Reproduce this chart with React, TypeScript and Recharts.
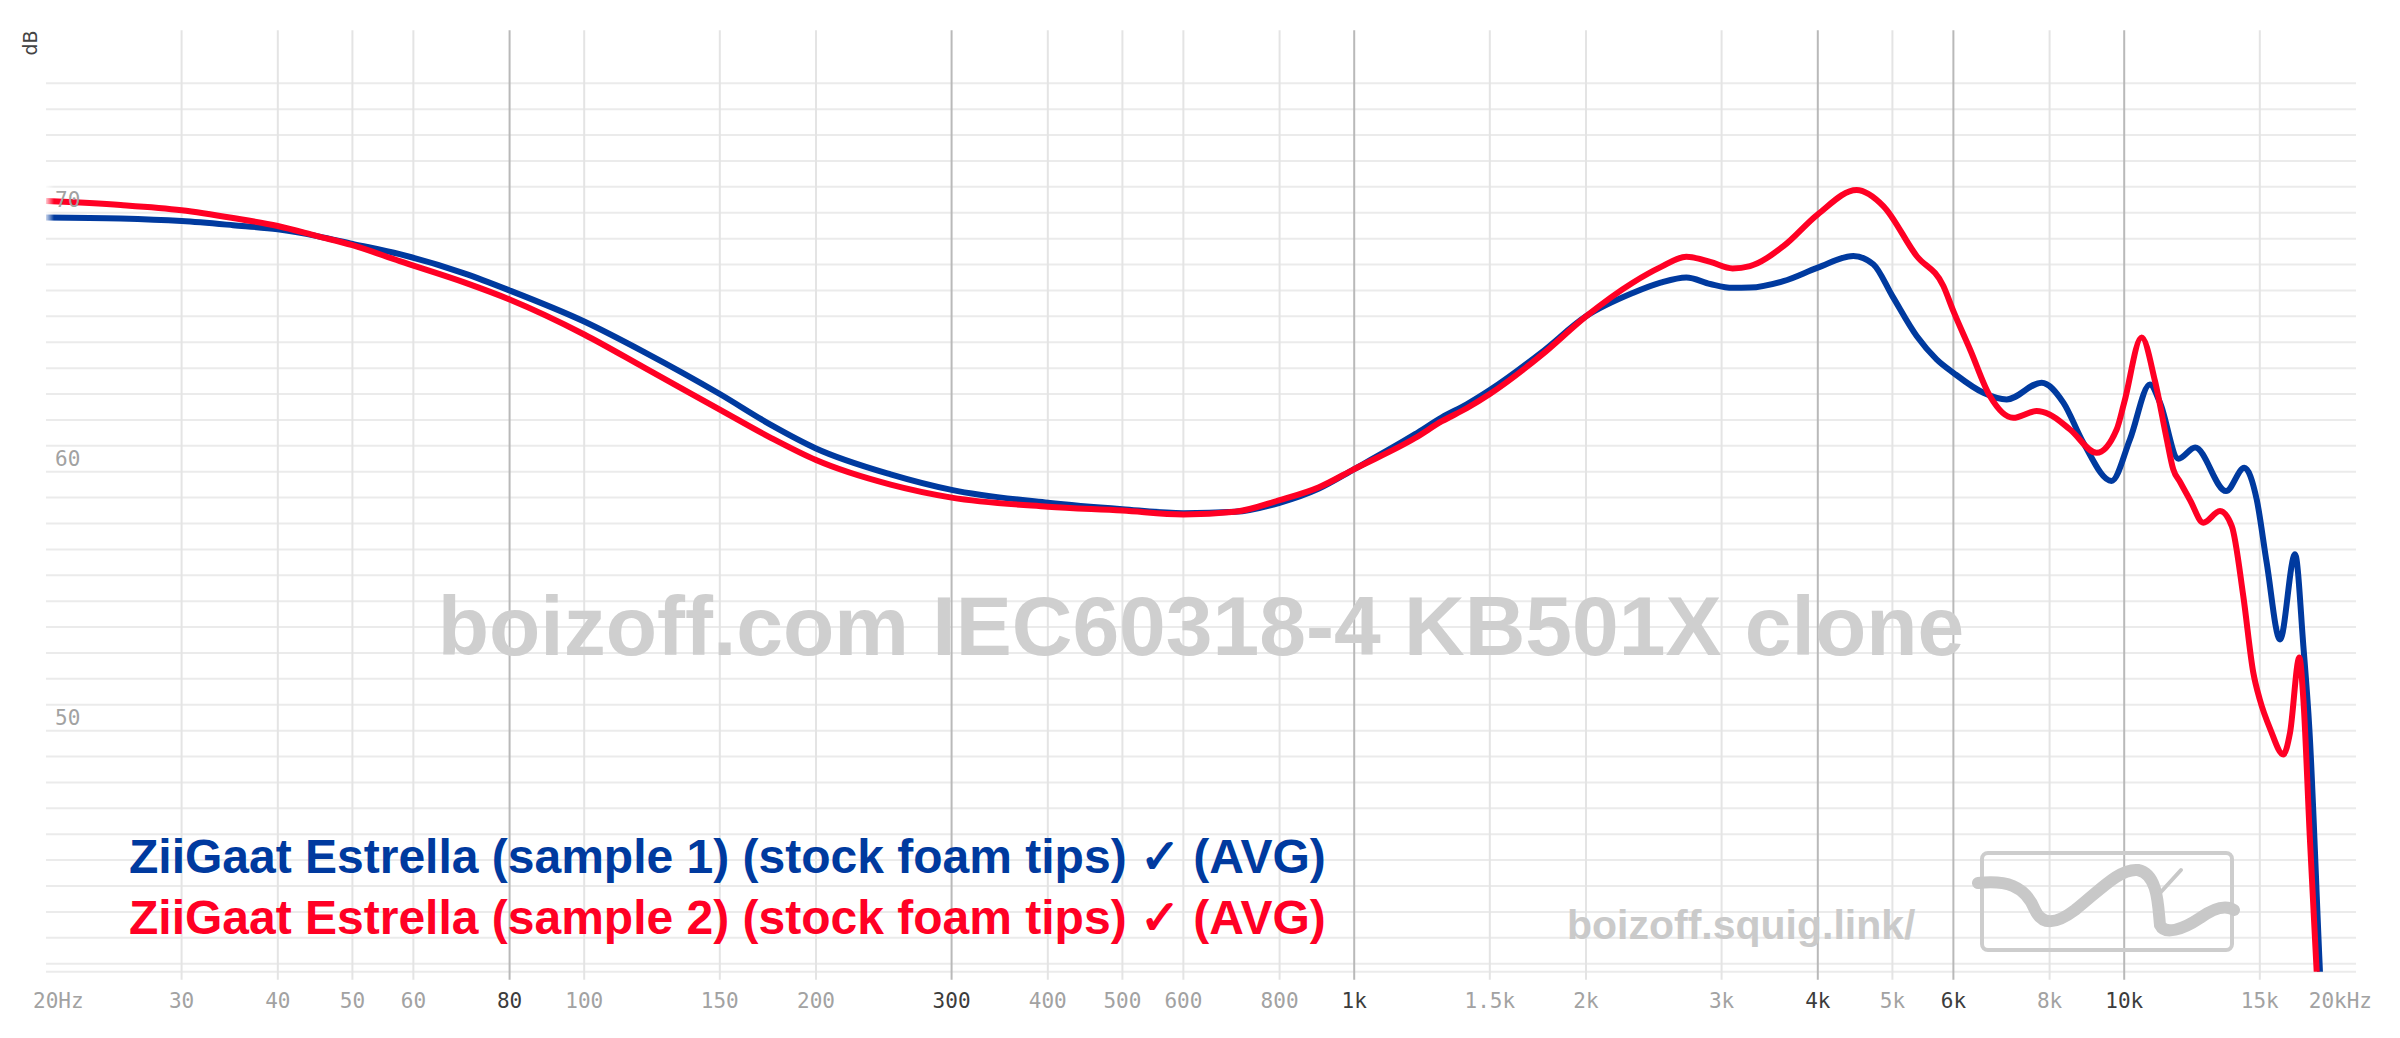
import React from "react";
import { LineChart, Line, XAxis, YAxis, CartesianGrid, ReferenceLine } from "recharts";

// ---------- data ----------
const blueFreq = [20, 25, 30, 35, 40, 45, 50, 57.6, 70, 80, 100, 120, 150, 175, 200, 250, 300, 400, 500, 600, 700, 800, 900, 1000, 1200, 1300, 1400, 1500, 1750, 2000, 2300, 2500, 2700, 2900, 3100, 3266, 3609, 4000, 4448, 4722, 5000, 5376, 5706, 6000, 6563, 7037, 7812, 8336, 8850, 9627, 10174, 10800, 11128, 11760, 12363, 13561, 14322, 14861, 15313, 15935, 16667, 17088, 17398, 17962, 18200];
const blueDb = [69.82, 69.78, 69.68, 69.52, 69.36, 69.1, 68.8, 68.4, 67.65, 67.0, 65.8, 64.6, 63.0, 61.8, 60.9, 59.9, 59.3, 58.8, 58.55, 58.4, 58.45, 58.8, 59.35, 60.1, 61.45, 62.1, 62.6, 63.15, 64.6, 66.0, 66.9, 67.3, 67.5, 67.25, 67.1, 67.11, 67.36, 67.88, 68.33, 68.01, 66.78, 65.24, 64.34, 63.82, 63.05, 62.79, 63.44, 62.67, 61.12, 59.64, 61.25, 63.37, 62.67, 60.5, 60.93, 59.25, 60.15, 58.93, 56.48, 53.52, 56.81, 53.26, 50.05, 40.6, 37];

const redFreq = [20, 25, 30, 35, 40, 45, 50, 57.6, 70, 80, 100, 120, 150, 175, 200, 250, 300, 400, 500, 600, 700, 800, 900, 1000, 1200, 1300, 1400, 1500, 1750, 2000, 2300, 2500, 2700, 2900, 3100, 3266, 3609, 4000, 4493, 4866, 5376, 5823, 6000, 6307, 6692, 7176, 7696, 8000, 8505, 9210, 9777, 10000, 10535, 10964, 11357, 11580, 11819, 12179, 12668, 13317, 13794, 14278, 14711, 15000, 15480, 16093, 16419, 16883, 17088, 17419, 17788, 18000];
const redDb = [70.45, 70.3, 70.1, 69.8, 69.49, 69.1, 68.75, 68.13, 67.3, 66.65, 65.3, 64.0, 62.4, 61.3, 60.45, 59.5, 59.0, 58.65, 58.5, 58.35, 58.45, 58.9, 59.4, 60.1, 61.3, 61.95, 62.45, 63.0, 64.5, 66.0, 67.3, 67.9, 68.3, 68.1, 67.85, 67.94, 68.71, 69.94, 70.88, 70.26, 68.33, 67.17, 66.2, 64.72, 62.92, 62.08, 62.34, 62.21, 61.63, 60.73, 61.63, 62.67, 65.18, 63.5, 61.25, 60.09, 59.6, 58.9, 58.03, 58.48, 57.9, 55.19, 52.24, 51.2, 50.05, 49.08, 49.92, 52.82, 51.2, 45.9, 40.6, 38];

const xTicks = [20, 30, 40, 50, 60, 80, 100, 150, 200, 300, 400, 500, 600, 800, 1000, 1500, 2000, 3000, 4000, 5000, 6000, 8000, 10000, 15000, 20000];
const xTickLabels = ["20Hz", "30", "40", "50", "60", "80", "100", "150", "200", "300", "400", "500", "600", "800", "1k", "1.5k", "2k", "3k", "4k", "5k", "6k", "8k", "10k", "15k", "20kHz"];
const xMajor = [80, 300, 1000, 4000, 6000, 10000];
const xGridFreqs = [30, 40, 50, 60, 80, 100, 150, 200, 300, 400, 500, 600, 800, 1000, 1500, 2000, 3000, 4000, 5000, 6000, 8000, 10000, 15000];

const yTicks = [41, 42, 43, 44, 45, 46, 47, 48, 49, 50, 51, 52, 53, 54, 55, 56, 57, 58, 59, 60, 61, 62, 63, 64, 65, 66, 67, 68, 69, 70, 71, 72, 73, 74, 75];
const yLabels = [50, 60, 70];

const seriesNames = [
  "ZiiGaat Estrella (sample 1) (stock foam tips) \u2713 (AVG)",
  "ZiiGaat Estrella (sample 2) (stock foam tips) \u2713 (AVG)",
];
const watermark = "boizoff.com IEC60318-4 KB501X clone";
const siteLink = "boizoff.squig.link/";

const blueData = blueFreq.map((f, i) => ({ f, db: blueDb[i] }));
const redData = redFreq.map((f, i) => ({ f, db: redDb[i] }));

const BLUE = "#003a9f";
const RED = "#ff0024";

const XTick = (props: any) => {
  const { x, y, payload } = props;
  const i = xTicks.indexOf(payload.value);
  if (i < 0) return null;
  const last = xTicks.length - 1;
  const anchor = i === 0 ? "start" : i === last ? "end" : "middle";
  const dx = i === 0 ? -13 : i === last ? 16 : 0;
  const major = xMajor.includes(payload.value);
  return (
    <text x={x + dx} y={y + 36} textAnchor={anchor} fontFamily="'DejaVu Sans Mono', monospace" fontSize={21} fill={major ? "#3c3c3c" : "#a2a2a2"}>
      {xTickLabels[i]}
    </text>
  );
};

const YTick = (props: any) => {
  const { y, payload } = props;
  const v = Number(payload && payload.value);
  if (!yLabels.includes(v)) return <g />;
  return (
    <text x={55} y={y - 6} textAnchor="start" fontFamily="'DejaVu Sans Mono', monospace" fontSize={21} fill="#a2a2a2">
      {v}
    </text>
  );
};

export default function App() {
  return (
    <div style={{ position: "absolute", left: 0, top: 0, width: 2400, height: 1038, background: "#fff" }}>
      <LineChart width={2400} height={1038} margin={{ top: 83.3, right: 44, bottom: 0, left: 45 }}>
        <CartesianGrid horizontal={true} vertical={false} stroke="#ebebeb" strokeWidth={2} />
        <XAxis
          dataKey="f"
          type="number"
          scale="log"
          domain={[20, 20000]}
          ticks={xTicks}
          interval={0}
          height={66.3}
          tickLine={false}
          axisLine={false}
          tickSize={0}
          tickMargin={0}
          tick={<XTick />}
        />
        <YAxis
          type="number"
          domain={[40.69, 75]}
          ticks={yTicks}
          interval={0}
          width={1}
          tickLine={false}
          axisLine={false}
          tickSize={0}
          tickMargin={0}
          allowDataOverflow
          tick={(p: any) => <YTick {...p} />}
        />
        {xGridFreqs.map((f) => (
          <ReferenceLine
            key={f}
            segment={[{ x: f, y: 77.05 }, { x: f, y: 40.38 }]}
            ifOverflow="visible"
            stroke={xMajor.includes(f) ? "#b9b9b9" : "#e4e4e4"}
            strokeWidth={2}
          />
        ))}
        <Line data={blueData} dataKey="db" type="monotone" stroke={BLUE} strokeWidth={6} dot={false} isAnimationActive={false} strokeLinejoin="round" />
        <Line data={redData} dataKey="db" type="monotone" stroke={RED} strokeWidth={6} dot={false} isAnimationActive={false} strokeLinejoin="round" />
      </LineChart>
      <svg width={2400} height={1038} style={{ position: "absolute", left: 0, top: 0, pointerEvents: "none" }}>
        <defs>
          <linearGradient id="fadeL" x1="0" y1="0" x2="1" y2="0">
            <stop offset="0" stopColor="#fff" stopOpacity={1} />
            <stop offset="1" stopColor="#fff" stopOpacity={0} />
          </linearGradient>
        </defs>
        <rect x={44} y={185} width={10} height={45} fill="url(#fadeL)" />
        <text transform="translate(37,43) rotate(-90)" textAnchor="middle" fontFamily="'DejaVu Sans', sans-serif" fontSize={19} fill="#444">dB</text>
        <text x={1201} y={655} textAnchor="middle" fontFamily="'Liberation Sans', Arial, sans-serif" fontWeight="bold" fontSize={84} fill="#cfcfcf">{watermark}</text>
        <text x={129} y={873} fontFamily="'Liberation Sans', Arial, sans-serif" fontWeight="bold" fontSize={48} fill={BLUE}>{seriesNames[0]}</text>
        <text x={129} y={934} fontFamily="'Liberation Sans', Arial, sans-serif" fontWeight="bold" fontSize={48} fill={RED}>{seriesNames[1]}</text>
        <text x={1567} y={939} fontFamily="'Liberation Sans', Arial, sans-serif" fontWeight="bold" fontSize={41} fill="#cacaca">{siteLink}</text>
        <rect x={1982} y={853} width={250} height={97} rx={6} fill="none" stroke="#cdcdcd" strokeWidth={4} />
        <path d="M 1978 883 C 2005 880, 2025 885, 2035 910 C 2042 925, 2055 925, 2075 910 C 2100 890, 2120 868, 2138 870 C 2158 874, 2158 905, 2160 925 C 2165 935, 2182 930, 2200 918 C 2214 908, 2226 905, 2234 910" fill="none" stroke="#c8c8c8" strokeWidth={12} strokeLinecap="round" />
        <path d="M 2160 893 L 2181 870" fill="none" stroke="#c8c8c8" strokeWidth={4} strokeLinecap="round" />
      </svg>
    </div>
  );
}
